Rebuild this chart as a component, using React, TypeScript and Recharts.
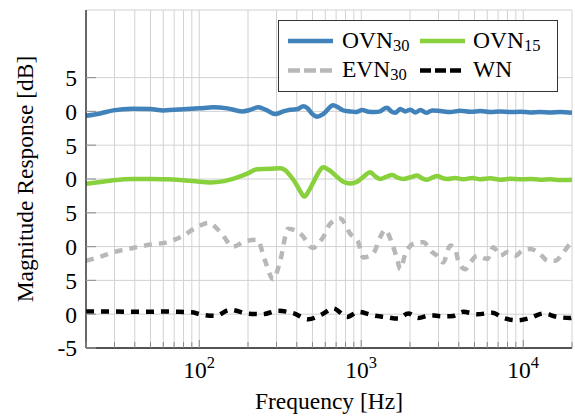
import { LineChart, Line, XAxis, YAxis, CartesianGrid } from 'recharts'

const FONT = "'Liberation Serif', 'Times New Roman', serif"

// vertical grid: every decade step between 20 Hz and 20 kHz
const gridFreqs = [
  20, 30, 40, 50, 60, 70, 80, 90,
  100, 200, 300, 400, 500, 600, 700, 800, 900,
  1000, 2000, 3000, 4000, 5000, 6000, 7000, 8000, 9000,
  10000, 20000,
]
const majorFreqs = [100, 1000, 10000]
const yTicks = [-5, 0, 5, 10, 15, 20, 25, 30, 35]
const yTickLabels = ['-5', '0', '5', '0', '5', '0', '5', '0', '5']

// each curve is shifted up by 10 dB so they stack
const ovn30Offset = 30
const ovn15Offset = 20
const evn30Offset = 10
const wnOffset = 0

const ovn30Freq = [20, 24.5, 29.4, 39, 50, 60, 84, 100, 122, 149, 184, 205, 231, 260, 294, 330, 364, 405, 439, 464, 500, 535, 582, 672, 742, 774, 855, 930, 1014, 1110, 1205, 1310, 1405, 1446, 1530, 1620, 1740, 1870, 2010, 2160, 2320, 2520, 2740, 3080, 3540, 4090, 4710, 5430, 6260, 7220, 8320, 9590, 11050, 12740, 14680, 16930, 20000]
const ovn30Db = [-0.64, -0.3, 0.15, 0.4, 0.35, 0.15, 0.35, 0.45, 0.6, 0.45, 0.0, 0.2, 0.6, 0.2, -0.4, 0.0, 0.25, 0.35, 0.75, 0.5, -0.4, -0.8, -0.4, 0.9, 0.4, 0.15, 0.0, -0.1, 0.2, -0.05, -0.1, 0.0, 0.5, 0.55, 0.0, -0.2, 0.35, 0.0, 0.25, -0.15, 0.2, -0.2, 0.15, 0.05, -0.1, 0.1, -0.05, 0.05, -0.1, 0.0, -0.1, -0.05, -0.15, -0.1, -0.15, -0.1, -0.2]

const ovn15Freq = [20, 24.5, 29.4, 39, 50, 62, 76, 95, 117, 139, 172, 198, 228, 274, 316, 340, 364, 393, 420, 445, 471, 506, 543, 582, 644, 710, 774, 855, 945, 1028, 1137, 1220, 1310, 1425, 1552, 1690, 1815, 2010, 2218, 2380, 2555, 2740, 2946, 3160, 3396, 3805, 4266, 4850, 5430, 6260, 7220, 8320, 9590, 11050, 12740, 14680, 16930, 20000]
const ovn15Db = [-0.7, -0.45, -0.2, 0.0, 0.0, -0.05, -0.15, -0.35, -0.5, -0.35, 0.25, 0.8, 1.45, 1.5, 1.6, 1.3, 0.5, -0.6, -1.8, -2.6, -1.9, -0.5, 0.9, 1.75, 1.2, 0.3, -0.4, -0.65, -0.4, 0.3, 1.0, 0.4, 0.0, 0.3, 0.6, 0.15, 0.0, 0.25, 0.5, 0.1, -0.1, 0.2, 0.45, 0.15, 0.0, 0.15, -0.05, 0.15, -0.05, 0.1, -0.1, 0.05, -0.05, 0.0, -0.1, -0.05, -0.15, -0.1]

const evn30Freq = [20, 24.5, 29.4, 39, 50, 63.5, 80, 97, 114, 135, 162, 192, 228, 255, 286, 316, 354, 432, 500, 582, 644, 742, 855, 958, 1028, 1186, 1310, 1405, 1552, 1667, 1740, 1870, 2095, 2415, 2744, 2946, 3207, 3542, 3805, 3970, 4387, 4712, 5202, 5998, 6536, 7218, 7969, 8933, 9862, 11045, 12376, 14260, 15770, 17420, 19500, 20000]
const evn30Db = [-2.1, -1.5, -0.85, -0.2, 0.3, 0.65, 1.65, 2.9, 3.5, 2.15, 0.0, 0.8, 1.0, -2.1, -4.85, -2.1, 2.65, 1.65, -0.2, 1.4, 3.4, 4.15, 1.9, 0.65, -1.6, -1.0, 1.4, 2.5, 0.4, -1.85, -3.35, -1.1, 0.4, 0.65, -0.85, -1.35, -2.35, 0.15, -0.35, -2.1, -3.35, -2.35, -1.35, -1.85, -0.1, -1.35, -0.85, -1.35, -0.6, -0.35, -0.85, -2.1, -2.1, -1.1, 0.4, 0.6]

const wnFreq = [20, 25, 30, 40, 50, 60, 75, 90, 101, 126, 155, 198, 245, 307, 380, 471, 574, 672, 820, 958, 1170, 1405, 1690, 1952, 2250, 2668, 3162, 3698, 4266, 5202, 6442, 7532, 9185, 11045, 13280, 16220, 19500, 20000]
const wnDb = [0.4, 0.4, 0.4, 0.35, 0.35, 0.4, 0.35, 0.3, 0.0, -0.25, 0.65, 0.1, 0.0, 0.5, 0.15, -0.75, 0.0, 0.85, -0.4, 0.35, -0.15, -0.4, -0.65, 0.1, -0.55, -0.15, -0.3, -0.25, 0.35, 0.0, 0.2, -0.55, -0.9, -0.55, 0.1, -0.4, -0.55, -0.5]

const toPoints = (freq: number[], db: number[], offset: number) =>
  freq.map((f, i) => ({ f, v: db[i] + offset }))

const ovn30 = toPoints(ovn30Freq, ovn30Db, ovn30Offset)
const ovn15 = toPoints(ovn15Freq, ovn15Db, ovn15Offset)
const evn30 = toPoints(evn30Freq, evn30Db, evn30Offset)
const wn = toPoints(wnFreq, wnDb, wnOffset)

const BLUE = '#4282ba'
const GREEN = '#88d13c'
const GRAY = '#b8b8b8'
const BLACK = '#000000'

const textStyle = { fontFamily: FONT, fontSize: 23.5 }

function FreqTick(props: any) {
  const { x, y, payload } = props
  const major = majorFreqs.includes(payload.value)
  return (
    <g>
      <line x1={x} x2={x} y1={y} y2={y - (major ? 8 : 6)} stroke="#888" strokeWidth={1} />
      {major && (
        <text x={x} y={y + 30} textAnchor="middle" style={textStyle} fill="#000">
          10
          <tspan style={{ fontSize: 16.5 }} dy={-10}>
            {Math.round(Math.log10(payload.value))}
          </tspan>
        </text>
      )}
    </g>
  )
}

function DbTick(props: any) {
  const { x, y, payload } = props
  const idx = yTicks.indexOf(payload.value)
  return (
    <g>
      <line x1={x} x2={x + 10} y1={y} y2={y} stroke="#999" strokeWidth={1.2} />
      <text x={x - 9} y={y + 8.3} textAnchor="end" style={textStyle} fill="#000">
        {yTickLabels[idx]}
      </text>
    </g>
  )
}

function LegendBox() {
  const sub = { fontSize: 16.5 }
  return (
    <svg width={575} height={416} style={{ position: 'absolute', left: 0, top: 0, pointerEvents: 'none' }}>
      <rect x={278.5} y={20.5} width={279} height={71} fill="#fff" stroke="#333" strokeWidth={1} />
      <line x1={288} x2={333} y1={41} y2={41} stroke={BLUE} strokeWidth={4.5} />
      <text x={342} y={48} style={textStyle}>
        OVN<tspan style={sub} dy={3}>30</tspan>
      </text>
      <line x1={420} x2={465} y1={41} y2={41} stroke={GREEN} strokeWidth={4.5} />
      <text x={473} y={48} style={textStyle}>
        OVN<tspan style={sub} dy={3}>15</tspan>
      </text>
      <line x1={288} x2={333} y1={70.5} y2={70.5} stroke={GRAY} strokeWidth={4.5} strokeDasharray="12 4" />
      <text x={342} y={77} style={textStyle}>
        EVN<tspan style={sub} dy={3}>30</tspan>
      </text>
      <line x1={420} x2={461} y1={70.5} y2={70.5} stroke={BLACK} strokeWidth={4.5} strokeDasharray="11 4" />
      <text x={473} y={77} style={textStyle}>
        WN
      </text>
    </svg>
  )
}

export default function App() {
  return (
    <div style={{ position: 'relative', width: 575, height: 416, background: '#fff', fontFamily: FONT }}>
      <style>{`body{margin:0}`}</style>
      <LineChart width={575} height={416} margin={{ top: 10, right: 3, bottom: 0, left: 0 }} style={{ fontFamily: FONT }}>
        <CartesianGrid stroke="#d2d2d2" strokeWidth={1} />
        <XAxis
          type="number"
          dataKey="f"
          scale="log"
          domain={[20, 20000]}
          allowDataOverflow
          ticks={gridFreqs}
          interval={0}
          height={68}
          tickSize={0}
          tickMargin={0}
          tickLine={false}
          tick={FreqTick}
          axisLine={{ stroke: '#222', strokeWidth: 1.3 }}
          label={({ viewBox }: any) => (
            <text x={viewBox.x + viewBox.width / 2} y={viewBox.y + 61} textAnchor="middle" style={textStyle} fill="#000">
              Frequency [Hz]
            </text>
          )}
        />
        <YAxis
          type="number"
          domain={[-5, 45]}
          allowDataOverflow
          ticks={yTicks}
          interval={0}
          width={86}
          tickSize={0}
          tickMargin={0}
          tickLine={false}
          tick={DbTick}
          axisLine={{ stroke: '#222', strokeWidth: 1.3 }}
          label={({ viewBox }: any) => {
            const cx = viewBox.x + 33
            const cy = viewBox.y + viewBox.height / 2
            return (
              <text x={cx} y={cy} transform={`rotate(-90 ${cx} ${cy})`} textAnchor="middle" style={textStyle} fill="#000">
                Magnitude Response [dB]
              </text>
            )
          }}
        />
        <Line data={evn30} dataKey="v" type="monotone" stroke={GRAY} strokeWidth={4.5} strokeDasharray="8 7" dot={false} isAnimationActive={false} />
        <Line data={wn} dataKey="v" type="monotone" stroke={BLACK} strokeWidth={4.5} strokeDasharray="8 7" dot={false} isAnimationActive={false} />
        <Line data={ovn15} dataKey="v" type="monotone" stroke={GREEN} strokeWidth={4.5} dot={false} isAnimationActive={false} />
        <Line data={ovn30} dataKey="v" type="monotone" stroke={BLUE} strokeWidth={4.5} dot={false} isAnimationActive={false} />
      </LineChart>
      <LegendBox />
    </div>
  )
}
